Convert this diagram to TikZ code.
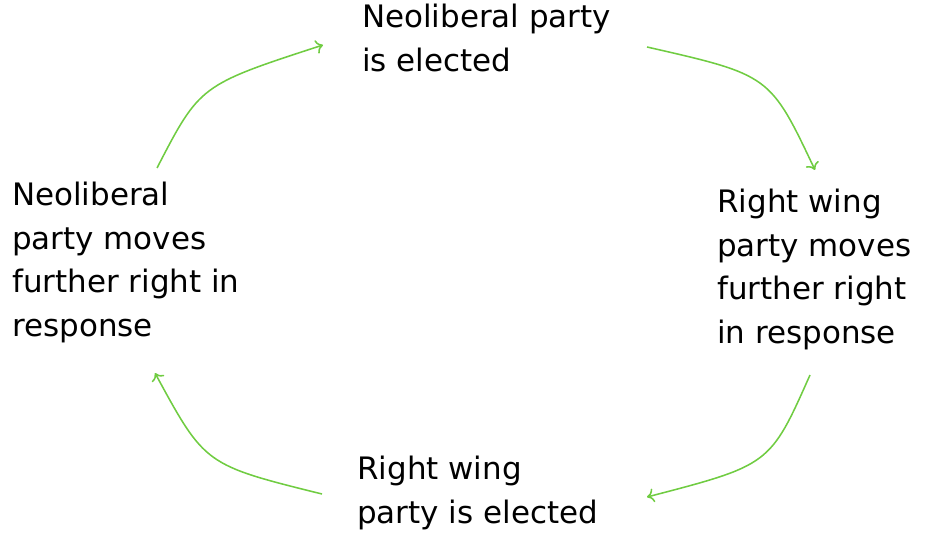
\documentclass[tikz,border=0pt]{standalone}
\usepackage{fontspec}
\setmainfont{DejaVu Sans}
\usetikzlibrary{arrows.meta}
\definecolor{cyclegreen}{RGB}{112,204,66}
\begin{document}
\begin{tikzpicture}[x=0.025cm,y=-0.025cm,
	step node/.style={anchor=north west,align=left,inner sep=0pt,font=\fontsize{22}{31}\selectfont},
	cycle arrow/.style={draw=cyclegreen,line width=1.1pt,-{To[length=5pt,width=10pt]}}]
	\useasboundingbox (0,0) rectangle (952,551);
	
	\node[step node] (neoelected) at (362,4) {Neoliberal party\\is elected};
	\node[step node] (rightmoves) at (717,189) {Right wing\\party moves\\further right\\in response};
	\node[step node] (rightelected) at (357,456) {Right wing\\party is elected};
	\node[step node] (neomoves) at (12,182) {Neoliberal\\party moves\\further right in\\response};
	
	\coordinate (a1) at (157,168); \coordinate (b1) at (323,45);
	\coordinate (a2) at (647,47);  \coordinate (b2) at (815,170);
	\coordinate (a3) at (810,375); \coordinate (b3) at (647,497);
	\coordinate (a4) at (322,494); \coordinate (b4) at (155,373);
	
	\path[cycle arrow] (a1) .. controls (200,85) .. (b1);
	\path[cycle arrow] (a2) .. controls (770,75) .. (b2);
	\path[cycle arrow] (a3) .. controls (770,465) .. (b3);
	\path[cycle arrow] (a4) .. controls (205,465) .. (b4);
\end{tikzpicture}
\end{document}
